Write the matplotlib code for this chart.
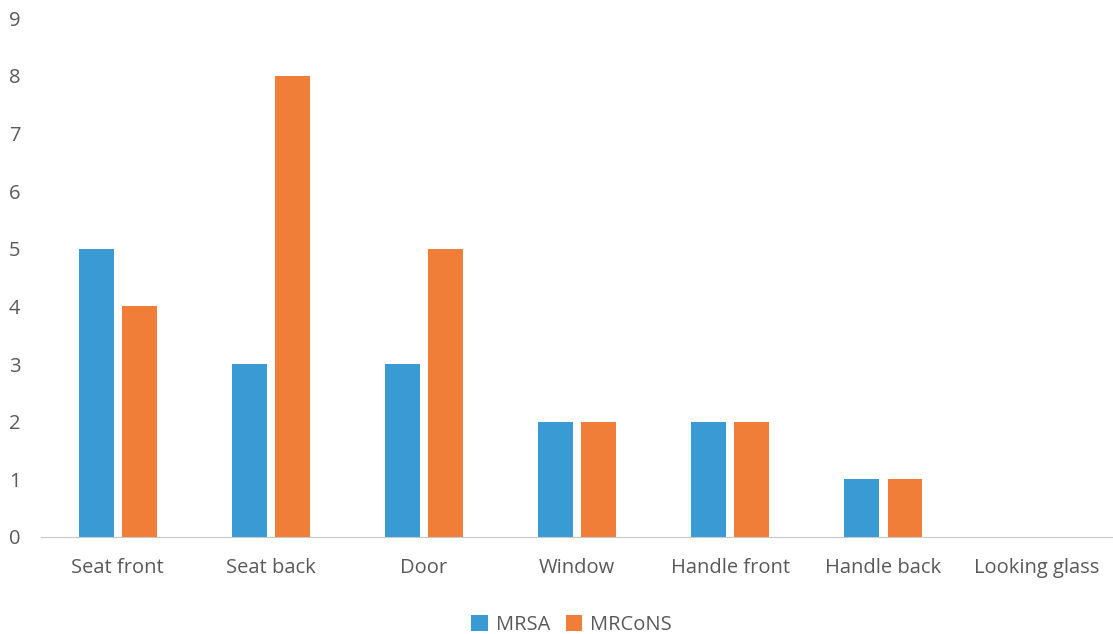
import matplotlib.pyplot as plt
import numpy as np

plt.rcParams['font.family'] = ['Open Sans', 'DejaVu Sans']

categories = ['Seat front', 'Seat back', 'Door', 'Window', 'Handle front',
              'Handle back', 'Looking glass']
mrsa = [5, 3, 3, 2, 2, 1, 0]
mrcons = [4, 8, 5, 2, 2, 1, 0]

fig = plt.figure(figsize=(11.13, 6.34), dpi=100)
ax = fig.add_axes([0.037, 0.153, 0.963, 0.8186])

x = np.arange(len(categories))
w = 0.227
ax.bar(x - 0.141, mrsa, w, color='#3A9AD4', label='MRSA')
ax.bar(x + 0.141, mrcons, w, color='#F07E38', label='MRCoNS')

ax.set_xlim(-0.5, 6.5)
ax.set_ylim(0, 9)
ax.set_yticks(range(10))
ax.set_xticks(x)
ax.set_xticklabels(categories)

for s in ['top', 'right', 'left']:
    ax.spines[s].set_visible(False)
ax.spines['bottom'].set_color('#C8C8C8')
ax.tick_params(axis='both', length=0, labelsize=14.5, colors='#595959')
ax.tick_params(axis='x', pad=15)
ax.tick_params(axis='y', pad=15)

ax.legend(loc='upper center', bbox_to_anchor=(0.495, -0.115), ncol=2, frameon=False,
          fontsize=14.5, labelcolor='#595959', handlelength=0.8, handleheight=0.8,
          columnspacing=0.8, handletextpad=0.4)

fig.savefig('out.png')
